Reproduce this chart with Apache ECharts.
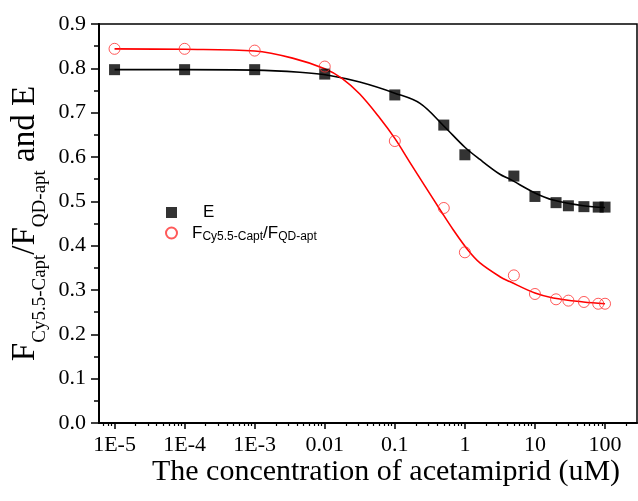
<!DOCTYPE html>
<html>
<head>
<meta charset="utf-8">
<script src="https://cdn.jsdelivr.net/npm/echarts@6/dist/echarts.min.js"></script>
<style>
  html, body { margin: 0; padding: 0; background: #fff; }
  #chart { width: 638px; height: 501px; }
</style>
</head>
<body>
<div id="chart"></div>
<script>
// Acetamiprid concentration of each measured sample (uM)
const concentrations = [1e-5, 1e-4, 1e-3, 0.01, 0.1, 0.5, 1, 5, 10, 20, 30, 50, 80, 100];
// FRET efficiency E
const efficiencyE = [0.797, 0.797, 0.797, 0.787, 0.740, 0.672, 0.605, 0.557, 0.511, 0.497, 0.490, 0.488, 0.487, 0.487];
// Fluorescence ratio F(Cy5.5-Capt) / F(QD-apt)
const ratioF = [0.844, 0.844, 0.840, 0.804, 0.636, 0.485, 0.385, 0.333, 0.291, 0.279, 0.276, 0.273, 0.269, 0.269];

// Dose-response fit of E, sampled along the concentration range
const fitConcE = [1e-5, 1e-4, 1e-3, 0.0044, 0.0117, 0.0316, 0.1, 0.229, 0.5, 1, 1.62, 3.16, 4.37, 10, 18.2, 49, 100];
const fitE     = [0.797, 0.797, 0.796, 0.791, 0.784, 0.769, 0.744, 0.721, 0.670, 0.622, 0.595, 0.561, 0.550, 0.519, 0.503, 0.490, 0.486];
// Dose-response fit of the fluorescence ratio
const fitConcF = [1e-5, 1e-4, 1e-3, 0.00347, 0.01, 0.0178, 0.0316, 0.061, 0.1, 0.164, 0.268, 0.464, 0.681, 1.12, 1.64, 3.16, 4.37, 10, 18.2, 49, 100];
const fitF     = [0.844, 0.843, 0.839, 0.823, 0.799, 0.777, 0.742, 0.688, 0.642, 0.588, 0.535, 0.476, 0.436, 0.389, 0.361, 0.330, 0.319, 0.293, 0.282, 0.273, 0.269];

// Axis ranges and tick labels
const xMin = 6e-6;
const xMax = 286;
const decadeTicks  = [1e-5, 1e-4, 1e-3, 0.01, 0.1, 1, 10, 100];
const decadeLabels = ['1E-5', '1E-4', '1E-3', '0.01', '0.1', '1', '10', '100'];
const yMin = 0;
const yMax = 0.9;
const yStep = 0.1;
const yTicks  = [0, 0.1, 0.2, 0.3, 0.4, 0.5, 0.6, 0.7, 0.8, 0.9];
const yLabels = ['0.0', '0.1', '0.2', '0.3', '0.4', '0.5', '0.6', '0.7', '0.8', '0.9'];

const serif = 'Liberation Serif';
const sans = 'Liberation Sans';
const tickFont = '22px "Liberation Serif", serif';

// minor log ticks at 2..9 x 10^n inside the visible range
const minorTicks = [];
for (let e = -6; e <= 2; e++) {
  for (let k = 2; k <= 9; k++) {
    const v = k * Math.pow(10, e);
    if (v > xMin && v < xMax) minorTicks.push(v);
  }
}

const pairs = (xs, ys) => xs.map((x, i) => [x, ys[i]]);

const chart = echarts.init(document.getElementById('chart'), null, { renderer: 'canvas' });

chart.setOption({
  backgroundColor: '#fff',
  animation: false,
  grid: {
    left: 99, right: 1, top: 24, bottom: 78,
    outerBoundsMode: 'none', containLabel: false,
    show: true, borderColor: '#000', borderWidth: 1.5, backgroundColor: 'transparent'
  },
  xAxis: [
    {
      type: 'log', logBase: 10, min: xMin, max: xMax,
      axisLine: { show: true, onZero: false, lineStyle: { color: '#000', width: 2 } },
      axisTick: { show: true, inside: false, length: 6, customValues: decadeTicks, lineStyle: { color: '#000', width: 1.5 } },
      axisLabel: { show: false },
      splitLine: { show: false },
      minorTick: { show: false },
      name: 'The concentration of acetamiprid (uM)',
      nameLocation: 'middle', nameGap: 34,
      nameTextStyle: { fontFamily: serif, fontSize: 30, color: '#000', padding: [0, 0, 0, 36] }
    },
    {
      type: 'log', logBase: 10, min: xMin, max: xMax, position: 'bottom',
      axisLine: { show: false },
      axisTick: { show: true, inside: false, length: 3, customValues: minorTicks, lineStyle: { color: '#000', width: 1.2 } },
      axisLabel: { show: false },
      splitLine: { show: false }
    }
  ],
  yAxis: {
    type: 'value', min: yMin, max: yMax, interval: yStep,
    axisLine: { show: true, onZero: false, lineStyle: { color: '#000', width: 2 } },
    axisTick: { show: true, inside: false, length: 8, lineStyle: { color: '#000', width: 1.5 } },
    minorTick: { show: true, splitNumber: 2, length: 5, lineStyle: { color: '#000', width: 1.5 } },
    axisLabel: { show: false },
    splitLine: { show: false },
    name: '{m|F}{s|Cy5.5-Capt}{m|/F}{s|QD-apt}{m| and E}',
    nameLocation: 'middle', nameRotate: 90, nameGap: 52,
    nameTextStyle: {
      rich: {
        m: { fontFamily: serif, fontSize: 33, lineHeight: 44, color: '#000' },
        s: { fontFamily: serif, fontSize: 19, lineHeight: 44, padding: [30, 0, 0, 0], color: '#000' }
      }
    }
  },
  legend: {
    orient: 'vertical', left: 160, top: 199,
    itemWidth: 11, itemHeight: 11, itemGap: 2,
    symbolKeepAspect: true,
    data: ['E', 'F'],
    selectedMode: false,
    formatter: name => name === 'E'
      ? '{e|E}'
      : '{f|F}{s|Cy5.5-Capt}{m|/F}{s|QD-apt}',
    textStyle: {
      rich: {
        e: { fontFamily: sans, fontSize: 17, lineHeight: 22, color: '#000', padding: [0, 0, 0, 21] },
        f: { fontFamily: sans, fontSize: 17, lineHeight: 22, color: '#000', padding: [0, 0, 0, 10] },
        m: { fontFamily: sans, fontSize: 17, lineHeight: 22, color: '#000' },
        s: { fontFamily: sans, fontSize: 12, lineHeight: 22, padding: [8, 0, 0, 0], color: '#000' }
      }
    }
  },
  series: [
    {
      name: 'fitE', type: 'line', data: pairs(fitConcE, fitE),
      smooth: 0.35, symbol: 'none', silent: true, z: 2,
      lineStyle: { color: '#000', width: 1.6 }
    },
    {
      name: 'fitF', type: 'line', data: pairs(fitConcF, fitF),
      smooth: 0.35, symbol: 'none', silent: true, z: 2,
      lineStyle: { color: '#ff0000', width: 1.6 }
    },
    {
      name: 'E', type: 'scatter', data: pairs(concentrations, efficiencyE),
      symbol: 'rect', symbolSize: 11, z: 3,
      itemStyle: { color: '#000' }
    },
    {
      name: 'F', type: 'scatter', data: pairs(concentrations, ratioF),
      symbol: 'circle', symbolSize: 11, z: 3,
      itemStyle: { color: 'rgba(255,255,255,0)', borderColor: '#ff3030', borderWidth: 1 }
    }
  ]
});

// Tick labels, positioned through the axes' own scales
const axisBottom = chart.convertToPixel({ yAxisIndex: 0 }, yMin);
const axisLeft = chart.convertToPixel({ xAxisIndex: 0 }, xMin);
const tickTexts = [];
decadeTicks.forEach((v, i) => {
  tickTexts.push({
    type: 'text', silent: true, z: 10,
    x: chart.convertToPixel({ xAxisIndex: 0 }, v), y: axisBottom + 11,
    style: { text: decadeLabels[i], font: tickFont, fill: '#000', align: 'center', verticalAlign: 'top' }
  });
});
yTicks.forEach((v, i) => {
  tickTexts.push({
    type: 'text', silent: true, z: 10,
    x: axisLeft - 13, y: chart.convertToPixel({ yAxisIndex: 0 }, v),
    style: { text: yLabels[i], font: tickFont, fill: '#000', align: 'right', verticalAlign: 'middle' }
  });
});
chart.setOption({ graphic: { elements: tickTexts } });
</script>
</body>
</html>
